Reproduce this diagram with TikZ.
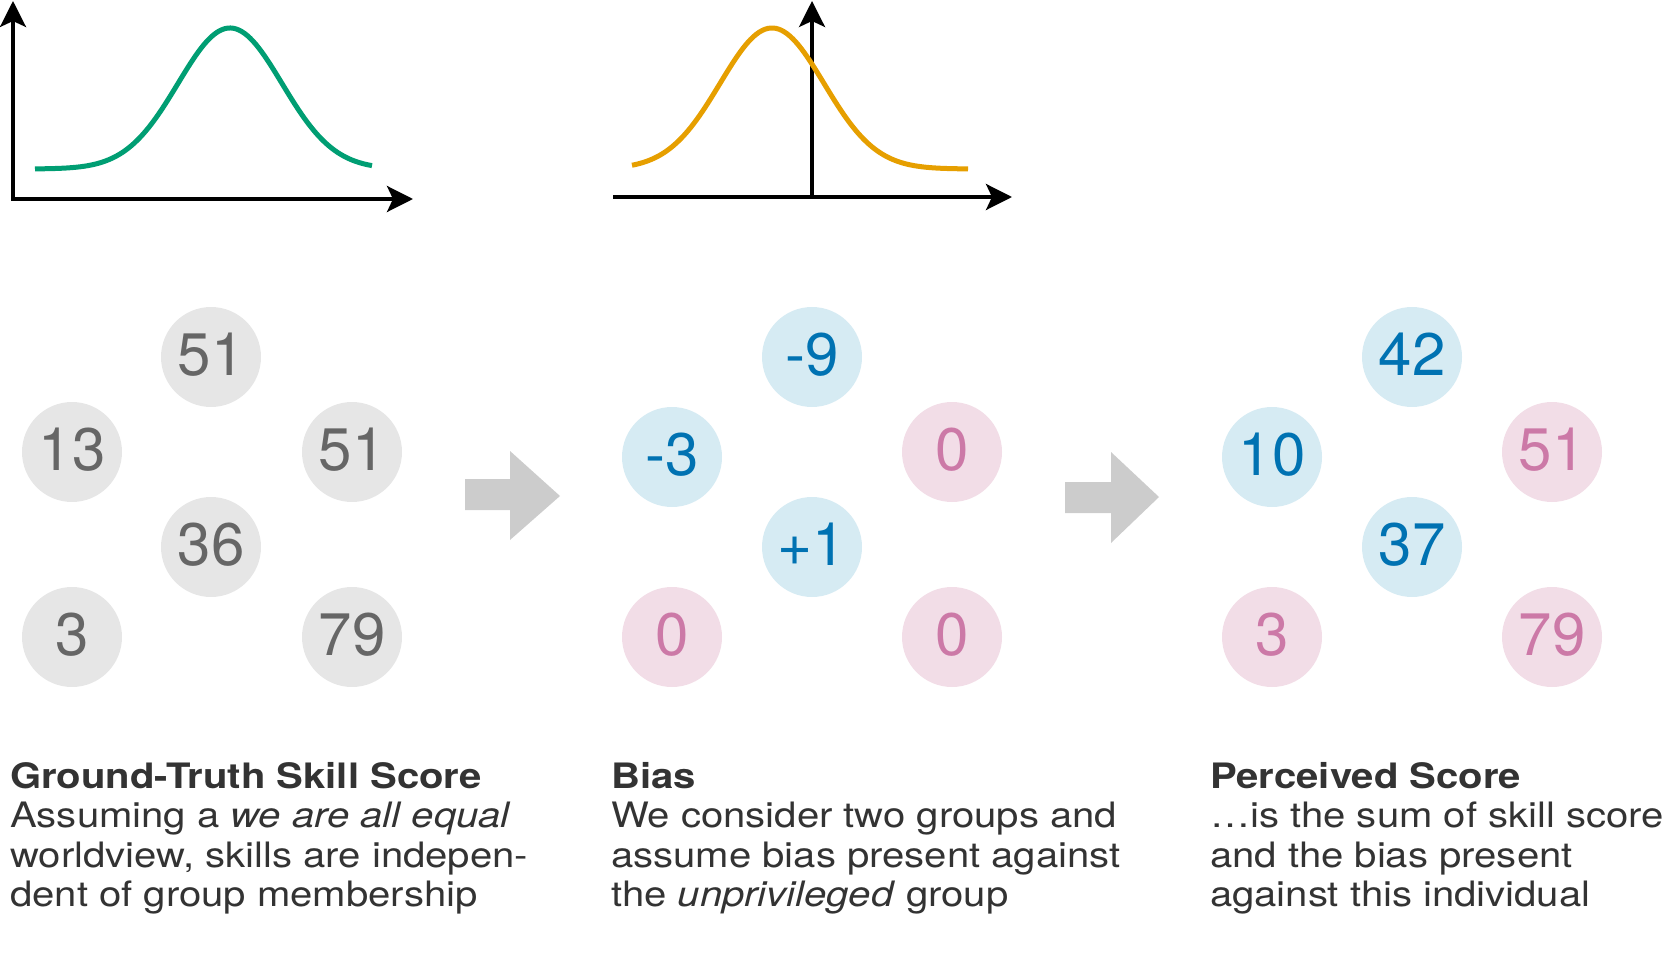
\documentclass[tikz,border=0pt]{standalone}
\usepackage{fontspec}
\setmainfont{TeX Gyre Heros}
\newfontfamily\descfont{TeX Gyre Heros}[FakeStretch=1.145]
\usetikzlibrary{arrows.meta}
\definecolor{txtc}{HTML}{333333}
\definecolor{gfill}{HTML}{E6E6E6}
\definecolor{gtext}{HTML}{666666}
\definecolor{bfill}{HTML}{D6EBF3}
\definecolor{btext}{HTML}{0072B2}
\definecolor{pfill}{HTML}{F2DDE7}
\definecolor{ptext}{HTML}{CC79A7}
\definecolor{curvegreen}{HTML}{009E73}
\definecolor{curveorange}{HTML}{E69F00}
\definecolor{arrowgray}{HTML}{CCCCCC}
\tikzset{
  circ/.style={circle, minimum size=100pt, inner sep=0pt, text depth=5pt, font=\fontsize{60}{72}\selectfont},
  gcirc/.style={circ, fill=gfill, text=gtext},
  bcirc/.style={circ, fill=bfill, text=btext},
  pcirc/.style={circ, fill=pfill, text=ptext},
  axis/.style={line width=3.5pt, -{Stealth[length=26pt,width=26pt,inset=6pt]}},
  curve/.style={line width=5pt, line cap=butt},
  bigarrow/.style={fill=arrowgray},
  desc/.style={anchor=north west, align=left, inner sep=0pt, text=txtc, font=\descfont\fontsize{35}{39.5}\selectfont}
}
\begin{document}
\begin{tikzpicture}[x=1pt,y=-1pt]
\useasboundingbox (0,0) rectangle (1675,965);

% left chart
\coordinate (o1) at (13,199);
\coordinate (y1) at (13,1);
\coordinate (x1s) at (11,199);
\coordinate (x1) at (413,199);
\draw[axis] (o1) -- (y1);
\draw[axis] (x1s) -- (x1);
\draw[curve, curvegreen] plot[domain=35:372, samples=120] (\x, {169 - 141*exp(-0.5*((\x-230)/52)^2)});

% middle chart
\coordinate (o2) at (812,197);
\coordinate (y2) at (812,1);
\coordinate (x2s) at (613,197);
\coordinate (x2) at (1012,197);
\draw[axis] (o2) -- (y2);
\draw[axis] (x2s) -- (x2);
\draw[curve, curveorange] plot[domain=632:968, samples=120] (\x, {169 - 141*exp(-0.5*((\x-772)/52)^2)});

% ground truth circles
\node[gcirc] (a1) at (211,357) {51};
\node[gcirc] (a2) at (72,452) {13};
\node[gcirc] (a3) at (352,452) {51};
\node[gcirc] (a4) at (211,547) {36};
\node[gcirc] (a5) at (72,637) {3};
\node[gcirc] (a6) at (352,637) {79};

% bias circles
\node[bcirc] (b1) at (812,357) {-9};
\node[bcirc] (b2) at (672,457) {-3};
\node[pcirc] (b3) at (952,452) {0};
\node[bcirc] (b4) at (812,547) {+1};
\node[pcirc] (b5) at (672,637) {0};
\node[pcirc] (b6) at (952,637) {0};

% perceived circles
\node[bcirc] (c1) at (1412,357) {42};
\node[bcirc] (c2) at (1272,457) {10};
\node[pcirc] (c3) at (1552,452) {51};
\node[bcirc] (c4) at (1412,547) {37};
\node[pcirc] (c5) at (1272,637) {3};
\node[pcirc] (c6) at (1552,637) {79};

% big arrows
\fill[bigarrow] (465,479) -- (510,479) -- (510,451) -- (560,496) -- (510,540) -- (510,510) -- (465,510) -- cycle;
\fill[bigarrow] (1065,482) -- (1111,482) -- (1111,452) -- (1159,497) -- (1111,543) -- (1111,513) -- (1065,513) -- cycle;

% descriptions
\node[desc] (t1) at (10,762) {\textbf{Ground-Truth Skill Score}\\Assuming a \textit{we are all equal}\\worldview, skills are indepen-\\dent of group membership};
\node[desc] (t2) at (611,762) {\textbf{Bias}\\We consider two groups and\\assume bias present against\\the \textit{unprivileged} group};
\node[desc] (t3) at (1210,762) {\textbf{Perceived Score}\\…is the sum of skill score\\and the bias present\\against this individual};
\end{tikzpicture}
\end{document}
